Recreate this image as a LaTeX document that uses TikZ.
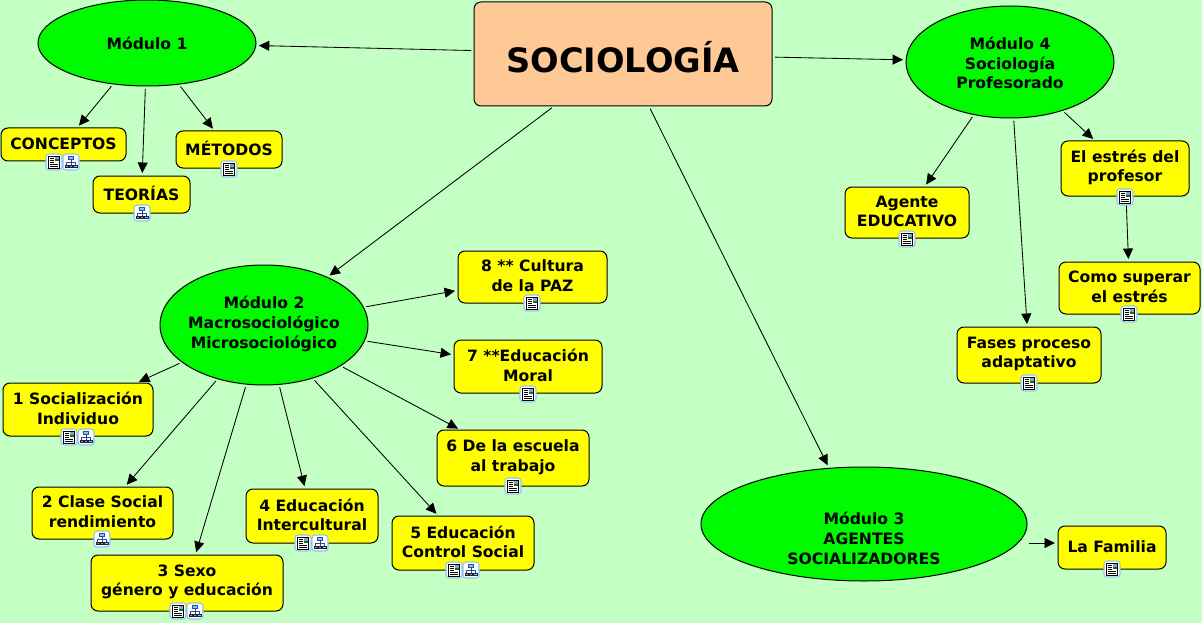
\documentclass[tikz,border=0pt]{standalone}
\usepackage{fontspec}
\setmainfont{DejaVu Sans}
\usetikzlibrary{arrows.meta,shapes.geometric}
\definecolor{bgc}{HTML}{C4FFC4}
\definecolor{yel}{HTML}{FFFF00}
\definecolor{grn}{HTML}{00FA00}
\definecolor{pch}{HTML}{FFC996}
\definecolor{icb}{HTML}{2A4A9A}
\definecolor{icl}{HTML}{8FC4EE}
\tikzset{
 x=1pt,y=-1pt,
 every node/.style={inner sep=0pt,outer sep=0pt,align=center,font=\bfseries\fontsize{15.6}{19.7}\selectfont,text=black},
 conn/.style={draw=black,line width=0.85pt,-{Triangle[length=10.5pt,width=10pt]},shorten <=3pt,shorten >=3pt},
 topic/.style={draw=black,line width=1pt,fill=yel,rounded corners=7pt,rectangle},
 oval/.style={draw=black,line width=1pt,fill=grn,ellipse},
 iconbox/.style={draw=icl,line width=1.1pt,fill=white,rounded corners=3pt,minimum width=16pt,minimum height=16pt},
}
\newcommand{\bx}[6]{\node[topic,minimum width={#4-#2},minimum height={#5-#3}] (#1) at ({(#2+#4)/2},{(#3+#5)/2}) {};
 \node (#1t) at ({(#2+#4)/2},{(#3+#5)/2-1}) {#6};}
% \ov{name}{x}{y}{rx}{ry}{text y}{text}
\newcommand{\ov}[7]{\node[oval,minimum width={2*#4},minimum height={2*#5}] (#1) at (#2,#3) {};
 \node (#1t) at (#2,#6) {#7};}
\newcommand{\icd}[3]{\node[iconbox] (#1) at (#2,#3) {};
 \begin{scope}[shift={(#2,#3)}]
 \draw[black,line width=0.8pt,fill=white] (-5.5,-6) rectangle (5.5,6);
 \fill[icb!55!white] (0.5,-5) rectangle (4.5,-2.5);
 \fill[green!50!black] (0.5,-2.5) rectangle (4.5,-0.5);
 \draw[black,line width=0.7pt] (-4,-4)--(-0.5,-4) (-4,-2)--(-0.5,-2) (-4,0.3)--(-0.5,0.3) (-4,2)--(4,2) (-4,4)--(4,4);
 \end{scope}}
\newcommand{\icm}[3]{\node[iconbox] (#1) at (#2,#3) {};
 \begin{scope}[shift={(#2,#3)}]
 \draw[icb,line width=0.8pt] (0,-3)--(0,2.5) (-4.2,0)--(4.2,0) (-4.2,0)--(-4.2,2.5) (4.2,0)--(4.2,2.5);
 \draw[icb,line width=0.8pt,fill=icl] (-2.5,-6) rectangle (2.5,-3);
 \draw[icb!50!black,line width=0.8pt,fill=orange!60!brown] (-6,3) rectangle (-2.8,5.8);
 \draw[icb!50!black,line width=0.8pt,fill=icl] (2.8,3) rectangle (6,5.8);
 \draw[icb!50!black,line width=0.8pt,fill=orange!60!brown] (-1.4,3) rectangle (1.4,5.8);
 \end{scope}}
\begin{document}
\begin{tikzpicture}
\useasboundingbox (0,0) rectangle (1202,623);
\fill[bgc] (0,0) rectangle (1202,623);
\node[draw=black,line width=1pt,fill=pch,rounded corners=7pt,minimum width=298pt,minimum height=104pt] (soc) at (623,54) {};
\node[font=\bfseries\fontsize{33.6}{40}\selectfont] (soct) at (623,57) {SOCIOLOGÍA};
\ov{m1}{147}{43}{109}{43}{43}{Módulo 1}
\ov{m2}{264}{325}{104}{60}{324}{Módulo 2\\Macrosociológico\\Microsociológico}
\ov{m3}{864}{524}{163}{57}{538.5}{Módulo 3\\AGENTES\\SOCIALIZADORES}
\ov{m4}{1010}{62}{104}{56}{63}{Módulo 4\\Sociología\\Profesorado}
\bx{con}{1}{128}{126}{161}{CONCEPTOS}
\bx{teo}{93}{176}{190}{213}{TEORÍAS}
\bx{met}{176}{131}{282}{168}{MÉTODOS}
\bx{c8}{458}{251}{607}{303}{8 ** Cultura\\de la PAZ}
\bx{c7}{454}{340}{602}{393}{7 **Educación\\Moral}
\bx{c6}{437}{430}{589}{486}{6 De la escuela\\al trabajo}
\bx{c5}{392}{516}{534}{570}{5 Educación\\Control Social}
\bx{c4}{246}{489}{378}{543}{4 Educación\\Intercultural}
\bx{c3}{91}{555}{283}{611}{3 Sexo\\género y educación}
\bx{c2}{32}{487}{173}{539}{2 Clase Social\\rendimiento}
\bx{c1}{3}{383}{153}{436}{1 Socialización\\Individuo}
\bx{age}{845}{187}{969}{238}{Agente\\EDUCATIVO}
\bx{est}{1061}{141}{1189}{196}{El estrés del\\profesor}
\bx{sup}{1059}{262}{1200}{314}{Como superar\\el estrés}
\bx{fas}{957}{327}{1101}{383}{Fases proceso\\adaptativo}
\bx{fam}{1058}{526}{1166}{569}{La Familia}
\foreach \a/\b in {soc/m1,soc/m2,soc/m4,m1/con,m1/teo,m1/met,m2/c1,m2/c2,m2/c3,m2/c4,m2/c5,m2/c6,m2/c7,m2/c8,m4/age,m4/est,m4/fas,est/sup}
  \draw[conn] (\a) -- (\b);
\coordinate (m3in) at (829,468);
\draw[conn] (soc) -- (m3in);
\coordinate (m3out) at (1029,543);
\draw[conn,shorten <=0pt] (m3out) -- (fam.west |- m3out);
\icd{i1}{54}{162}\icm{i2}{71}{162}
\icm{i3}{142}{213}
\icd{i4}{229}{169}
\icd{i5}{532}{303}
\icd{i6}{528}{394}
\icd{i7}{513}{486}
\icd{i8}{454}{570}\icm{i9}{471}{570}
\icd{i10}{303}{543}\icm{i11}{320}{543}
\icd{i12}{178}{611}\icm{i13}{195}{611}
\icm{i14}{102}{539}
\icd{i15}{69}{437}\icm{i16}{86}{437}
\icd{i17}{907}{239}
\icd{i18}{1125}{197}
\icd{i19}{1129}{314}
\icd{i20}{1029}{383}
\icd{i21}{1112}{569}
\end{tikzpicture}
\end{document}
